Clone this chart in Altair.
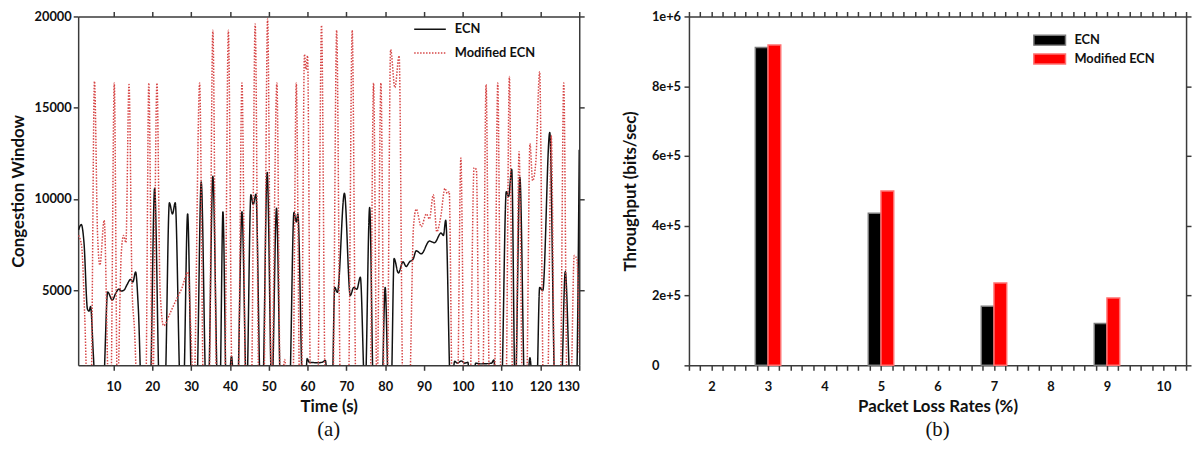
import altair as alt
import pandas as pd

# ---------------- panel (a): congestion window over time ----------------
ecn_t = [1.0, 1.7, 2.4, 3.3, 3.7, 4.1, 4.8, 5.5, 6.2, 6.9, 7.4, 8.5, 9.7, 10.5, 11.4, 12.0, 12.7,
         13.5, 14.4, 15.0, 15.7, 16.4, 17.3,
         19.4, 20.6, 21.9,
         23.2, 24.4, 25.2, 25.9, 27.3,
         28.0, 29.1, 30.2,
         31.4, 32.6, 33.9,
         34.4, 35.6, 36.9,
         37.4, 38.2, 39.1,
         39.8, 40.4, 41.0,
         41.9, 43.1, 44.3,
         45.4, 46.0, 46.7, 47.9,
         48.4, 49.6, 50.8,
         52.0, 53.1,
         55.3, 56.5, 57.1, 57.5, 58.8,
         59.4, 59.9, 60.4, 61.5, 62.7, 63.8, 64.6, 65.2,
         66.3, 67.0, 67.7, 69.5, 71.0, 71.9, 72.7, 73.6, 74.8,
         76.0, 77.0,
         79.1, 80.0, 80.9,
         81.5, 82.3, 83.4, 84.6, 85.4, 86.3, 87.2, 88.0, 89.3, 91.4, 92.7, 94.4, 95.0, 95.6, 96.9,
         97.4, 97.9, 98.6, 99.6, 100.5, 101.3, 101.9, 102.7, 103.3, 104.5, 106.0, 107.4, 108.0, 108.5,
         109.9, 111.2, 111.8, 112.6, 113.5,
         114.7, 116.0,
         116.8, 117.3, 117.8,
         119.0, 119.8, 120.6, 122.4, 123.8,
         125.3, 126.4, 127.8,
         129.2, 130.0]
ecn_v = [8300, 8600, 7600, 3950, 3850, 4100, 1500, -1000, -1000, -1000, -500, 4900, 4450, 4800, 5060, 4950, 5000,
         5300, 5590, 5450, 6000, 4000, -1000,
         -800, 10580, -800,
         -800, 9790, 9180, 9790, -800,
         -800, 9180, -800,
         -800, 10930, -800,
         -800, 11240, -800,
         -800, 9300, -800,
         -200, 1380, -200,
         -800, 9300, -800,
         10230, 9700, 10260, -800,
         -800, 11450, -800,
         9490, -800,
         -800, 9260, 8740, 9180, -800,
         -500, 1250, 1050, 1030, 1020, 1050, 1150, -300,
         -800, 5150, 4880, 10310, 4710, 5150, 5050, 5710, -800,
         9530, -800,
         -800, 5150, -800,
         -800, 6730, 5940, 6555, 6300, 6555, 6700, 7165, 6990, 7690, 7600, 8130, 8000, 8830, -800,
         200, 1100, 1000, 1120, 1000, 1050, -300, -300, 1000, 960, 970, 1000, 1180, -300,
         -800, 10400, 10140, 11630, -800,
         11190, -800,
         200, 1300, 200,
         -800, 5150, 4970, 13640, -800,
         -800, 6020, -800,
         -800, 12700]

mod_t = [1.0, 1.8, 2.6, 3.3,
         4.2, 5.1, 5.9, 6.5, 7.6, 8.8,
         9.3, 10.2, 11.0,
         12.0, 12.6, 13.2, 14.0, 14.8, 15.4, 16.2,
         18.3, 19.1, 20.1, 21.2, 22.0, 22.9, 24.5, 26.0, 27.6, 29.2, 29.9, 30.7,
         32.2, 33.2,
         34.6, 35.6, 36.6,
         38.6, 39.6, 40.6,
         42.1, 43.1, 44.1,
         45.5, 46.5, 47.5,
         48.7, 49.7, 50.7,
         52.1, 53.0,
         53.6, 54.1, 54.6,
         56.2, 57.1, 58.0,
         58.4, 59.2, 59.6, 60.0, 60.8,
         62.6, 63.6, 64.6,
         66.5, 67.5, 68.5,
         70.5, 71.5, 72.5,
         76.1, 77.0, 77.9, 78.9, 79.8,
         80.5, 81.4, 82.5, 83.6, 84.6,
         86.2, 87.3, 88.0, 89.3, 90.6, 91.4, 92.4, 93.3, 94.3, 95.4, 96.0, 96.5, 97.3,
         98.6, 99.5, 100.4,
         101.8, 102.9, 103.5, 104.3,
         105.1, 106.0, 106.9,
         108.1, 109.0, 109.9,
         111.1, 112.0, 112.9,
         113.6, 114.5, 115.4,
         116.4, 117.3, 118.0, 118.8, 119.8, 120.8,
         121.8, 122.8, 123.7,
         125.1, 126.0, 126.9,
         127.8, 128.7, 129.4, 130.0]
mod_v = [8000, 7400, 3500, -800,
         -800, 16440, 8000, 6370, 8830, -800,
         -800, 16350, -800,
         7000, 8000, 7600, 16270, 5000, 2900, -800,
         -800, 16350, -800, 16350, 5000, 3050, 3700, 4400, 5100, 6000, 3000, -800,
         16350, -800,
         -800, 19240, -800,
         -800, 19240, -800,
         -800, 16350, -800,
         -800, 19590, -800,
         -800, 19860, -800,
         16350, -800,
         200, 1200, 200,
         -800, 16350, -800,
         -800, 17930, 17100, 17850, -800,
         -800, 19510, -800,
         -800, 19240, -800,
         -800, 19240, -800,
         -800, 16350, -800, 16350, -800,
         -800, 18190, 16100, 17840, -800,
         -800, 8500, 9440, 8480, 9180, 8900, 10230, 8200, 9000, 10580, 10300, 10400, -800,
         -800, 12240, -800,
         -800, 11710, 11600, -800,
         -800, 16270, -800,
         -800, 16350, -800,
         -800, 16710, -800,
         -800, 12590, -800,
         -800, 13030, 11000, 12000, 16970, -800,
         -800, 13470, -800,
         -800, 16350, -800,
         -800, 6900, 6700, 1500]

time_ticks = [10, 20, 30, 40, 50, 60, 70, 80, 90, 100, 110, 120, 130]
cwnd_ticks = [5000, 10000, 15000, 20000]

# ---------------- panel (b): throughput vs packet loss ----------------
loss_rates = [3, 5, 7, 9]
ecn_tp = [911000, 436000, 169500, 120000]
mod_tp = [918000, 500000, 236000, 193000]
loss_ticks = [round(1.6 + 0.2 * i, 1) for i in range(45)]
tp_ticks = [0, 200000, 400000, 600000, 800000, 1000000]

series_names = ["ECN", "Modified ECN"]

FONT = "Lato"
TXT = "#111111"
AX = "#3a3a3a"

line_df = pd.concat([
    pd.DataFrame({"t": ecn_t, "v": ecn_v, "series": "ECN", "i": list(range(len(ecn_t)))}),
    pd.DataFrame({"t": mod_t, "v": mod_v, "series": "Modified ECN", "i": list(range(len(mod_t)))}),
], ignore_index=True)

bar_df = pd.concat([
    pd.DataFrame({"rate": loss_rates, "tp": ecn_tp, "series": "ECN"}),
    pd.DataFrame({"rate": loss_rates, "tp": mod_tp, "series": "Modified ECN"}),
], ignore_index=True)

ax = dict(domainColor=AX, domainWidth=1.5, tickColor=AX, tickWidth=1.5, tickSize=5,
          labelFont=FONT, labelFontSize=13, labelFontWeight="bold", labelColor=TXT,
          titleFont=FONT, titleFontSize=17, titleFontWeight="bold", titleColor=TXT, grid=False)
mirror = dict(domainColor=AX, domainWidth=1.5, tickColor=AX, tickWidth=1.5, tickSize=5,
              labels=False, title="", grid=False)

W_A, W_B, H = 507, 503, 353

xs_a = alt.Scale(domain=[0.9, 130], nice=False, zero=False)
ys_a = alt.Scale(domain=[880, 20000], nice=False, zero=False)

leg_a = alt.Legend(title="", orient="none", legendX=339, legendY=-4, symbolType="stroke",
                   symbolSize=1024, symbolStrokeWidth=1.5, labelFont=FONT, labelFontSize=13,
                   labelFontWeight="bold", labelColor=TXT, labelOffset=8, rowPadding=-4)

lines = alt.Chart(line_df).mark_line(clip=True, interpolate="monotone", strokeWidth=1.5).encode(
    x=alt.X("t:Q", scale=xs_a, axis=alt.Axis(values=time_ticks, title="Time (s)", labelPadding=10,
                                             titlePadding=6, format="d", **ax)),
    y=alt.Y("v:Q", scale=ys_a, axis=alt.Axis(values=cwnd_ticks, title="Congestion Window", format="d",
                                             labelPadding=2, titlePadding=7, **ax)),
    color=alt.Color("series:N", scale=alt.Scale(domain=series_names, range=["#111111", "#d64545"]),
                    legend=leg_a),
    strokeDash=alt.StrokeDash("series:N", scale=alt.Scale(domain=series_names, range=[[1, 0], [1.5, 1.5]]),
                              legend=leg_a),
    order="i:Q",
)
mirror_a = alt.Chart(line_df).mark_point(opacity=0, clip=True).encode(
    x=alt.X("t:Q", scale=xs_a, axis=alt.Axis(orient="top", values=time_ticks, **mirror)),
    y=alt.Y("v:Q", scale=ys_a, axis=alt.Axis(orient="right", values=cwnd_ticks, **mirror)),
)
panel_a = alt.layer(lines, mirror_a).resolve_axis(x="independent", y="independent").properties(
    width=W_A, height=H,
    title=alt.TitleParams("(a)", orient="bottom", font="Liberation Serif", fontSize=21,
                          fontWeight="normal", color=TXT, offset=4, frame="group"))

xs_b = alt.Scale(domain=[1.6, 10.4], nice=False, zero=False)
ys_b = alt.Scale(domain=[0, 1000000], nice=False)

leg_b = alt.Legend(title="", orient="none", legendX=354, legendY=13,
                   symbolType="M-1.6,-0.5L1.6,-0.5L1.6,0.5L-1.6,0.5Z", symbolSize=400,
                   symbolStrokeWidth=1.5, labelFont=FONT, labelFontSize=13, labelFontWeight="bold",
                   labelColor=TXT, labelOffset=14, rowPadding=0)

label_int = "abs(datum.value - round(datum.value)) < 0.01 ? format(datum.value, 'd') : ''"

bars = alt.Chart(bar_df).transform_calculate(
    x0="datum.rate + (datum.series == 'ECN' ? -0.225 : 0)",
    x1="datum.rate + (datum.series == 'ECN' ? 0 : 0.225)",
).mark_bar(strokeWidth=1.5).encode(
    x=alt.X("x0:Q", scale=xs_b, axis=alt.Axis(values=loss_ticks, labelExpr=label_int, labelOverlap=False,
                                              title="Packet Loss Rates (%)", labelPadding=10, titlePadding=6, **ax)),
    x2="x1:Q",
    y=alt.Y("tp:Q", scale=ys_b, axis=alt.Axis(values=tp_ticks, title="Throughput (bits/sec)",
                                              labelExpr="datum.value == 0 ? '0' : format(datum.value, '.0e')",
                                              labelAlign="left", labelPadding=33, titlePadding=12, **ax)),
    y2=alt.datum(0),
    fill=alt.Fill("series:N", scale=alt.Scale(domain=series_names, range=["#000000", "#ff0000"]), legend=leg_b),
    stroke=alt.Stroke("series:N", scale=alt.Scale(domain=series_names, range=["#7a7a7a", "#ff7070"]), legend=leg_b),
)
mirror_b = alt.Chart(bar_df).mark_point(opacity=0).encode(
    x=alt.X("rate:Q", scale=xs_b, axis=alt.Axis(orient="top", values=loss_ticks, **mirror)),
    y=alt.Y("tp:Q", scale=ys_b, axis=alt.Axis(orient="right", values=tp_ticks, **mirror)),
)
panel_b = alt.layer(bars, mirror_b).resolve_axis(x="independent", y="independent").properties(
    width=W_B, height=H,
    title=alt.TitleParams("(b)", orient="bottom", font="Liberation Serif", fontSize=21,
                          fontWeight="normal", color=TXT, offset=4, frame="group"))

chart = alt.hconcat(panel_a, panel_b, spacing=37).resolve_scale(
    color="independent", strokeDash="independent", fill="independent", stroke="independent"
).configure_view(strokeWidth=0).properties(
    padding={"left": 1, "top": 0, "right": 0, "bottom": 0}, background="white")

chart.save("out.html", embed_options={"renderer": "svg", "actions": False})
